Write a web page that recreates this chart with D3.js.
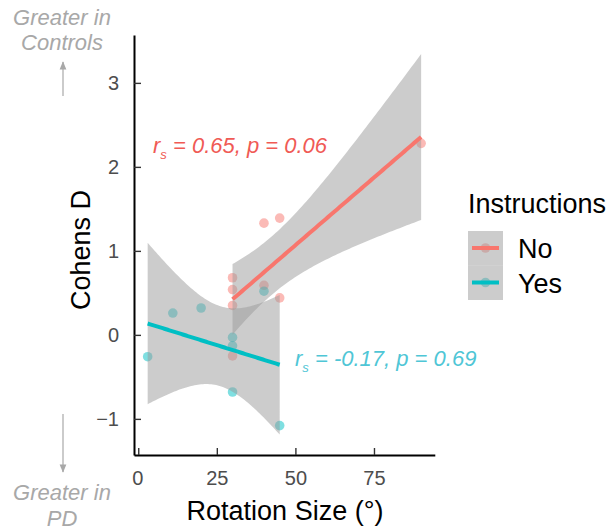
<!DOCTYPE html>
<html>
<head>
<meta charset="utf-8">
<script src="https://cdn.jsdelivr.net/npm/d3@7"></script>
<style>
  body { margin: 0; background: #fff; }
  svg { font-family: "Liberation Sans", Arial, sans-serif; }
</style>
</head>
<body>
<svg width="613" height="531"></svg>
<script>
// data
const groups = ["No", "Yes"];
const groupColors = ["#F8766D", "#00BFC4"];
const textColors = ["#F05A55", "#4FC6D6"];
const noX = [30, 30, 30, 30, 40, 40, 45, 45, 90];
const noY = [0.68, 0.54, 0.35, -0.25, 1.33, 0.59, 1.39, 0.44, 2.28];
const yesX = [3, 11, 20, 30, 30, 30, 40, 45];
const yesY = [-0.26, 0.26, 0.32, -0.03, -0.13, -0.68, 0.52, -1.08];
const statLabels = [
  { r: "0.65", p: "0.06" },
  { r: "-0.17", p: "0.69" }
];
const xTicks = [0, 25, 50, 75];
const yTicks = [-1, 0, 1, 2, 3];
const xDomain = [-1.35, 94.35];
const yDomain = [-1.43, 3.57];
// 97.5% t quantiles by degrees of freedom
const tQuant = { 5: 2.570582, 6: 2.446912, 7: 2.364624, 8: 2.306004 };

const svg = d3.select("svg");
const x = d3.scaleLinear().domain(xDomain).range([134, 434.8]);
const y = d3.scaleLinear().domain(yDomain).range([455, 35]);

// linear model fit, like geom_smooth(method = "lm")
function fitLm(xs, ys) {
  const n = xs.length;
  const mx = d3.mean(xs), my = d3.mean(ys);
  const sxx = d3.sum(xs, v => (v - mx) ** 2);
  const sxy = d3.sum(xs, (v, i) => (v - mx) * (ys[i] - my));
  const b = sxy / sxx, a = my - b * mx;
  const sse = d3.sum(xs, (v, i) => (ys[i] - (a + b * v)) ** 2);
  const s = Math.sqrt(sse / (n - 2));
  const t = tQuant[n - 2];
  const [lo, hi] = d3.extent(xs);
  const grid = d3.range(80).map(i => lo + (hi - lo) * i / 79);
  return grid.map(g => {
    const fit = a + b * g;
    const se = s * Math.sqrt(1 / n + (g - mx) ** 2 / sxx);
    return { x: g, y: fit, lo: fit - t * se, hi: fit + t * se };
  });
}

const series = [
  { xs: noX, ys: noY },
  { xs: yesX, ys: yesY }
];

// points
series.forEach((s, gi) => {
  svg.append("g").selectAll("circle")
    .data(s.xs.map((v, i) => [v, s.ys[i]]))
    .join("circle")
    .attr("cx", d => x(d[0]))
    .attr("cy", d => y(d[1]))
    .attr("r", 4.8)
    .attr("fill", groupColors[gi])
    .attr("fill-opacity", 0.5);
});

// ribbons and fit lines
const area = d3.area().x(d => x(d.x)).y0(d => y(d.lo)).y1(d => y(d.hi));
const line = d3.line().x(d => x(d.x)).y(d => y(d.y));
series.forEach((s, gi) => {
  const fit = fitLm(s.xs, s.ys);
  svg.append("path").attr("d", area(fit))
    .attr("fill", "#999").attr("fill-opacity", 0.5);
  svg.append("path").attr("d", line(fit))
    .attr("fill", "none").attr("stroke", groupColors[gi]).attr("stroke-width", 4);
});

// axes, ticks pointing inward
const xAxis = svg.append("g").attr("transform", "translate(0,455)")
  .call(d3.axisBottom(x).tickValues(xTicks).tickSizeInner(-7).tickSizeOuter(0).tickPadding(16));
const yAxis = svg.append("g").attr("transform", "translate(134,0)")
  .call(d3.axisLeft(y).tickValues(yTicks).tickFormat(d3.format("d"))
    .tickSizeInner(-7).tickSizeOuter(0).tickPadding(15));
[xAxis, yAxis].forEach(ax => {
  ax.select(".domain").attr("stroke", "#000").attr("stroke-width", 2);
  ax.selectAll(".tick line").attr("stroke", "#333").attr("stroke-width", 1.4);
  ax.selectAll(".tick text").attr("fill", "#4D4D4D").style("font-size", "20px")
    .style("font-family", "Liberation Sans, Arial, sans-serif");
});
xAxis.selectAll(".tick").filter(d => d === 0).select("text").attr("dx", "-1");

// axis titles
svg.append("text").attr("x", 285).attr("y", 520).attr("text-anchor", "middle")
  .style("font-size", "27px").text("Rotation Size (°)");
svg.append("text").attr("transform", "translate(90,250) rotate(-90)")
  .attr("text-anchor", "middle").style("font-size", "27px").text("Cohens D");

// correlation annotations
const statPos = [[153, 153], [295, 366]];
statLabels.forEach((d, i) => {
  const t = svg.append("text").attr("x", statPos[i][0]).attr("y", statPos[i][1])
    .attr("fill", textColors[i]).style("font-size", "22px").style("font-style", "italic");
  t.append("tspan").text("r");
  t.append("tspan").attr("dy", 6).style("font-size", "13px").text("s");
  t.append("tspan").attr("dy", -6).text(` = ${d.r}, p = ${d.p}`);
});

// side notes with arrows
const grey = "#A8A8A8";
svg.append("defs").append("marker").attr("id", "arrow")
  .attr("viewBox", "0 0 10 10").attr("refX", 9).attr("refY", 5)
  .attr("markerWidth", 7).attr("markerHeight", 9).attr("orient", "auto")
  .append("path").attr("d", "M0,1 L10,5 L0,9 Z").attr("fill", grey);
const note = (lines, yy) => lines.forEach((s, i) =>
  svg.append("text").attr("x", 62).attr("y", yy[i]).attr("text-anchor", "middle")
    .attr("fill", grey).style("font-size", "22px").style("font-style", "italic").text(s));
note(["Greater in", "Controls"], [25, 50]);
note(["Greater in", "PD"], [500, 526]);
svg.append("line").attr("x1", 63).attr("x2", 63).attr("y1", 96).attr("y2", 62)
  .attr("stroke", grey).attr("stroke-width", 1.2).attr("marker-end", "url(#arrow)");
svg.append("line").attr("x1", 63).attr("x2", 63).attr("y1", 414).attr("y2", 472)
  .attr("stroke", grey).attr("stroke-width", 1.2).attr("marker-end", "url(#arrow)");

// legend
const lg = svg.append("g").attr("transform", "translate(468,0)");
lg.append("text").attr("x", 0).attr("y", 213).style("font-size", "27px").text("Instructions");
groups.forEach((g, i) => {
  const cy = 248 + i * 34.5;
  lg.append("circle").attr("cx", 17.5).attr("cy", cy).attr("r", 4.8)
    .attr("fill", groupColors[i]).attr("fill-opacity", 0.5);
  lg.append("rect").attr("x", 0).attr("y", cy - 17).attr("width", 35).attr("height", 34.5)
    .attr("fill", "#999").attr("fill-opacity", 0.5);
  lg.append("line").attr("x1", 4).attr("x2", 31).attr("y1", cy).attr("y2", cy)
    .attr("stroke", groupColors[i]).attr("stroke-width", 4);
  lg.append("text").attr("x", 50).attr("y", cy + 10).style("font-size", "27px").text(g);
});
</script>
</body>
</html>
